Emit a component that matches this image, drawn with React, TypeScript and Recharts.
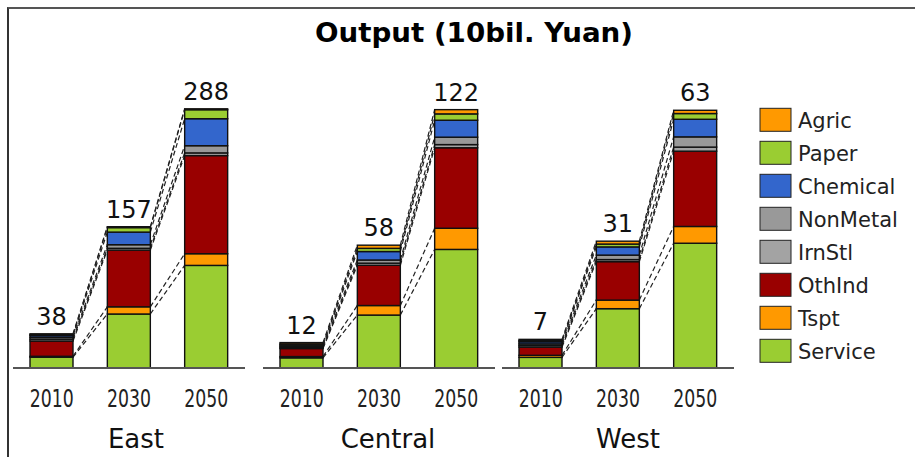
import React from 'react';
import { BarChart, Bar, XAxis, YAxis, LabelList } from 'recharts';

const years = ['2010', '2030', '2050'];
const regions = ['East', 'Central', 'West'];

// stack order, bottom to top
const sectors = ['Service', 'Tspt', 'OthInd', 'IrnStl', 'NonMetal', 'Chemical', 'Paper', 'Agric'];
const sectorColors = ['#9acd32', '#ff9900', '#990000', '#a3a3a3', '#999999', '#3366cc', '#9acd32', '#ff9900'];

// values per region (East, Central, West), each [2010, 2030, 2050], 10bil. Yuan
const service = [[12, 60, 114], [4.8, 25, 56], [2.6, 14.5, 30.5]];
const tspt = [[1, 8, 13], [0.6, 4.5, 10], [0.5, 2.1, 4.1]];
const othInd = [[17, 63, 109], [3.8, 19, 38], [2.0, 9.4, 18.4]];
const irnStl = [[2, 2, 3], [0.5, 1, 1.5], [0.4, 0.5, 1]];
const nonMetal = [[2, 4, 8], [0.5, 1.5, 3.5], [0.4, 1.1, 2.5]];
const chemical = [[2, 14, 30], [0.6, 4, 8], [0.5, 2, 4.3]];
const paper = [[1, 5, 10], [0.5, 1.5, 3], [0.3, 0.7, 1.4]];
const agric = [[1, 1, 1], [0.7, 1.5, 2], [0.3, 0.7, 0.8]];
const sectorValues = [service, tspt, othInd, irnStl, nonMetal, chemical, paper, agric];

// each panel has its own scale
const yMax = [300, 127.5, 66];

const plotLeft = [13, 263, 502];
const plotWidth = 232;
const regionLabelX = [136, 388, 628];
const FONT = 'DejaVu Sans, Verdana, sans-serif';

const buildRows = (r: number) =>
  years.map((year, i) => {
    const row: any = { year };
    let sum = 0;
    sectors.forEach((s, k) => {
      row[s] = sectorValues[k][r][i];
      sum += row[s];
    });
    row.total = Math.round(sum);
    return row;
  });

const cumTo = (row: any, k: number) => sectors.slice(0, k + 1).reduce((a, s) => a + row[s], 0);

// bar segment + dashed series line to the same series in the next bar
const makeShape = (rows: any[], k: number, step: number) => (props: any) => {
  const { x, y, width, height, fill, payload } = props;
  const idx = rows.findIndex((r) => r.year === payload.year);
  const row = rows[idx];
  const val = row[sectors[k]];
  const ppu = val > 0 ? height / val : 0;
  const base = y + height + (cumTo(row, k) - val) * ppu;
  const next = rows[idx + 1];
  return (
    <g>
      <rect x={x} y={y} width={width} height={height} fill={fill} stroke="#111" strokeWidth={1.4} />
      {next && ppu > 0 && (
        <line
          x1={x + width}
          y1={y}
          x2={x + step}
          y2={base - cumTo(next, k) * ppu}
          stroke="#222"
          strokeWidth={1.2}
          strokeDasharray="5 3"
        />
      )}
    </g>
  );
};

const YearTick = (props: any) => (
  <text
    x={props.x}
    y={347}
    textAnchor="middle"
    fontSize={24}
    fontFamily={FONT}
    fill="#222"
    textLength={44}
    lengthAdjust="spacingAndGlyphs"
  >
    {props.payload.value}
  </text>
);

const Panel = ({ r }: { r: number }) => {
  const rows = buildRows(r);
  const step = plotWidth / years.length;
  return (
    <div style={{ position: 'absolute', left: plotLeft[r] - 5 - 9, top: 51 }}>
      <BarChart width={plotWidth + 10} height={397} data={rows} margin={{ top: 38, right: 5, bottom: 0, left: 5 }}>
        <XAxis
          dataKey="year"
          axisLine={{ stroke: '#555', strokeWidth: 2 }}
          tickLine={false}
          height={89}
          interval={0}
          tick={<YearTick />}
        />
        <YAxis hide domain={[0, yMax[r]]} />
        {sectors.map((s, k) => (
          <Bar
            key={s}
            dataKey={s}
            stackId="a"
            fill={sectorColors[k]}
            barSize={43}
            isAnimationActive={false}
            shape={makeShape(rows, k, step)}
          >
            {k === sectors.length - 1 && (
              <LabelList dataKey="total" position="top" offset={9} fontSize={24} fontFamily={FONT} fill="#111" />
            )}
          </Bar>
        ))}
      </BarChart>
    </div>
  );
};

export default function App() {
  const legendItems = sectors.map((s, k) => ({ name: s, color: sectorColors[k] })).reverse();
  return (
    <div
      style={{
        position: 'relative',
        marginLeft: 7,
        marginTop: 7,
        width: 906,
        height: 448,
        borderTop: '2px solid #555',
        borderLeft: '2px solid #333',
        background: '#fff',
        overflow: 'hidden',
      }}
    >
      <style>{'body{margin:0;overflow:hidden;background:#fff}'}</style>
      <svg width={906} height={448} style={{ position: 'absolute', left: 0, top: 0 }}>
        <g transform="translate(-9,-9)" fontFamily={FONT}>
          <text
            x={474}
            y={41.7}
            textAnchor="middle"
            fontSize={27}
            fontWeight="bold"
            fill="#000"
            textLength={318}
            lengthAdjust="spacingAndGlyphs"
          >
            Output (10bil. Yuan)
          </text>
          {regions.map((name, r) => (
            <text key={name} x={regionLabelX[r]} y={448.3} textAnchor="middle" fontSize={26} fill="#111">
              {name}
            </text>
          ))}
          {legendItems.map((item, i) => (
            <g key={item.name}>
              <rect x={760} y={108.3 + 33 * i} width={31} height={23} fill={item.color} stroke="#222" strokeWidth={1} />
              <text x={798} y={128.3 + 33 * i} fontSize={21} fill="#222">
                {item.name}
              </text>
            </g>
          ))}
        </g>
      </svg>
      {regions.map((name, r) => (
        <Panel key={name} r={r} />
      ))}
    </div>
  );
}
